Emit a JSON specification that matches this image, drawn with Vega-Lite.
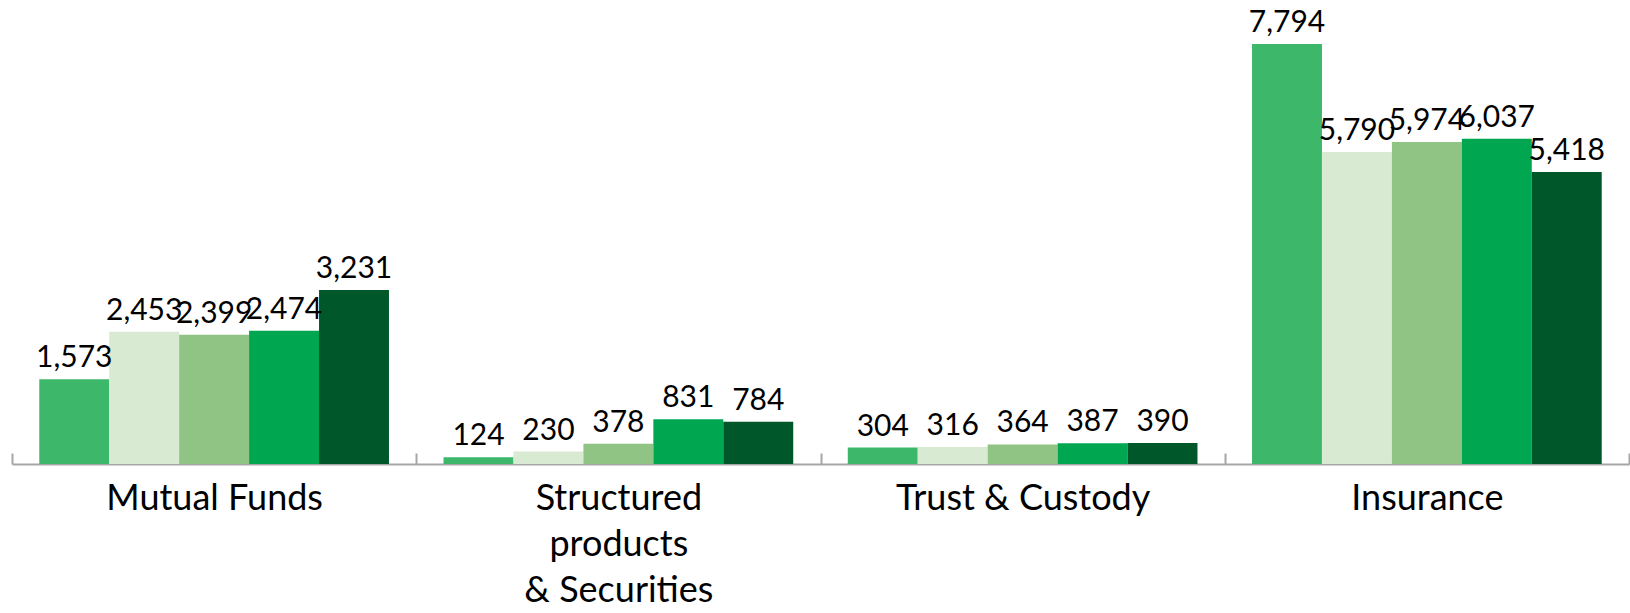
{
  "$schema": "https://vega.github.io/schema/vega-lite/v6.json",
  "width": 1617,
  "height": 464,
  "autosize": {"type": "none"},
  "padding": {"left": 12, "top": 0, "right": 1, "bottom": 149},
  "background": "white",
  "config": {"view": {"stroke": null}},
  "data": {
    "values": [
      {"category": "Mutual Funds", "series": "S1", "value": 1573},
      {"category": "Mutual Funds", "series": "S2", "value": 2453},
      {"category": "Mutual Funds", "series": "S3", "value": 2399},
      {"category": "Mutual Funds", "series": "S4", "value": 2474},
      {"category": "Mutual Funds", "series": "S5", "value": 3231},
      {"category": "Structured products & Securities", "series": "S1", "value": 124},
      {"category": "Structured products & Securities", "series": "S2", "value": 230},
      {"category": "Structured products & Securities", "series": "S3", "value": 378},
      {"category": "Structured products & Securities", "series": "S4", "value": 831},
      {"category": "Structured products & Securities", "series": "S5", "value": 784},
      {"category": "Trust & Custody", "series": "S1", "value": 304},
      {"category": "Trust & Custody", "series": "S2", "value": 316},
      {"category": "Trust & Custody", "series": "S3", "value": 364},
      {"category": "Trust & Custody", "series": "S4", "value": 387},
      {"category": "Trust & Custody", "series": "S5", "value": 390},
      {"category": "Insurance", "series": "S1", "value": 7794},
      {"category": "Insurance", "series": "S2", "value": 5790},
      {"category": "Insurance", "series": "S3", "value": 5974},
      {"category": "Insurance", "series": "S4", "value": 6037},
      {"category": "Insurance", "series": "S5", "value": 5418}
    ]
  },
  "encoding": {
    "x": {
      "field": "category",
      "type": "nominal",
      "sort": ["Mutual Funds", "Structured products & Securities", "Trust & Custody", "Insurance"],
      "scale": {"paddingInner": 0, "paddingOuter": 0},
      "axis": {
        "title": null,
        "labelAngle": 0,
        "labelFont": "Lato",
        "labelFontSize": 36,
        "labelColor": "#000000",
        "labelLineHeight": 46,
        "labelPadding": 28,
        "labelLimit": 0,
        "labelBaseline": "top",
        "labelExpr": "datum.value == 'Structured products & Securities' ? ['Structured', 'products', '& Securities'] : datum.label",
        "domainColor": "#a6a6a6",
        "domainWidth": 2,
        "tickColor": "#a6a6a6",
        "tickWidth": 2,
        "tickSize": -11,
        "tickBand": "extent"
      }
    },
    "xOffset": {
      "field": "series",
      "type": "nominal",
      "sort": ["S1", "S2", "S3", "S4", "S5"],
      "scale": {"paddingInner": 0, "paddingOuter": 0.39}
    },
    "y": {
      "field": "value",
      "type": "quantitative",
      "scale": {"domain": [0, 8610], "nice": false},
      "axis": null
    }
  },
  "layer": [
    {
      "mark": {"type": "bar"},
      "encoding": {
        "color": {
          "field": "series",
          "type": "nominal",
          "scale": {
            "domain": ["S1", "S2", "S3", "S4", "S5"],
            "range": ["#3db86a", "#d9ead3", "#8fc484", "#00a650", "#00582a"]
          },
          "legend": null
        }
      }
    },
    {
      "mark": {"type": "text", "baseline": "alphabetic", "dy": -12, "fontSize": 30, "font": "Lato", "color": "#000000"},
      "encoding": {
        "text": {"field": "value", "type": "quantitative", "format": ","}
      }
    }
  ]
}
